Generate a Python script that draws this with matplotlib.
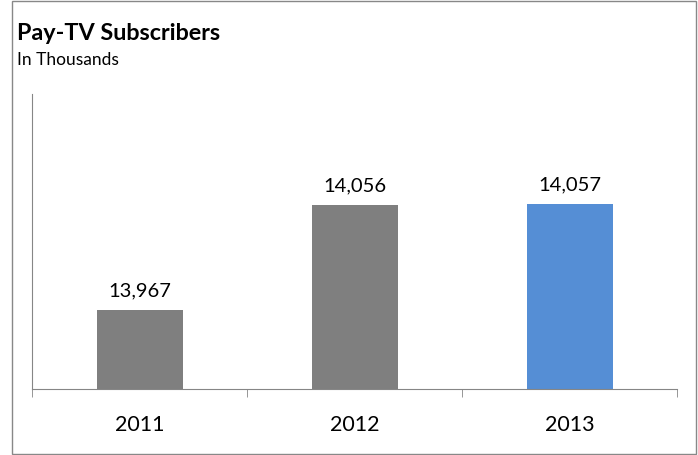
import matplotlib.pyplot as plt
from matplotlib.patches import Rectangle

years = ["2011", "2012", "2013"]
subscribers = [13967, 14056, 14057]
bar_colors = ["#7F7F7F", "#7F7F7F", "#558ED5"]

plt.rcParams['font.family'] = ['Lato', 'DejaVu Sans']

fig = plt.figure(figsize=(6.98, 4.56), dpi=100)
W, H = 698, 456
ax = fig.add_axes([32 / W, 1 - 390 / H, 645 / W, 295 / H])

x = range(len(years))
ax.bar(x, subscribers, width=0.4, color=bar_colors)
for i, v in enumerate(subscribers):
    ax.text(i, v + 10, f"{v:,}", ha="center", va="bottom", fontsize=14.5)

ax.set_xlim(-0.5, 2.5)
ax.set_ylim(13900, 14150)
ax.set_xticks(list(x))
ax.set_xticklabels(years, fontsize=15.5)
ax.tick_params(axis="x", which="major", length=0, pad=18)
ax.set_xticks([-0.5, 0.5, 1.5, 2.5], minor=True)
ax.tick_params(axis="x", which="minor", length=6, color="#868686")
ax.set_yticks([])
for s in ["top", "right"]:
    ax.spines[s].set_visible(False)
for s in ["left", "bottom"]:
    ax.spines[s].set_color("#868686")

fig.text(17 / W, 1 - 33 / H, "Pay-TV Subscribers", fontsize=16.8, fontweight="bold", va="center")
fig.text(17 / W, 1 - 60 / H, "In Thousands", fontsize=12.5, va="center")

fig.patches.append(Rectangle((12 / W, 1 / H), 684 / W, 453 / H, transform=fig.transFigure,
                             fill=False, edgecolor="#888888", linewidth=1))

fig.savefig("out.png", dpi=100)
